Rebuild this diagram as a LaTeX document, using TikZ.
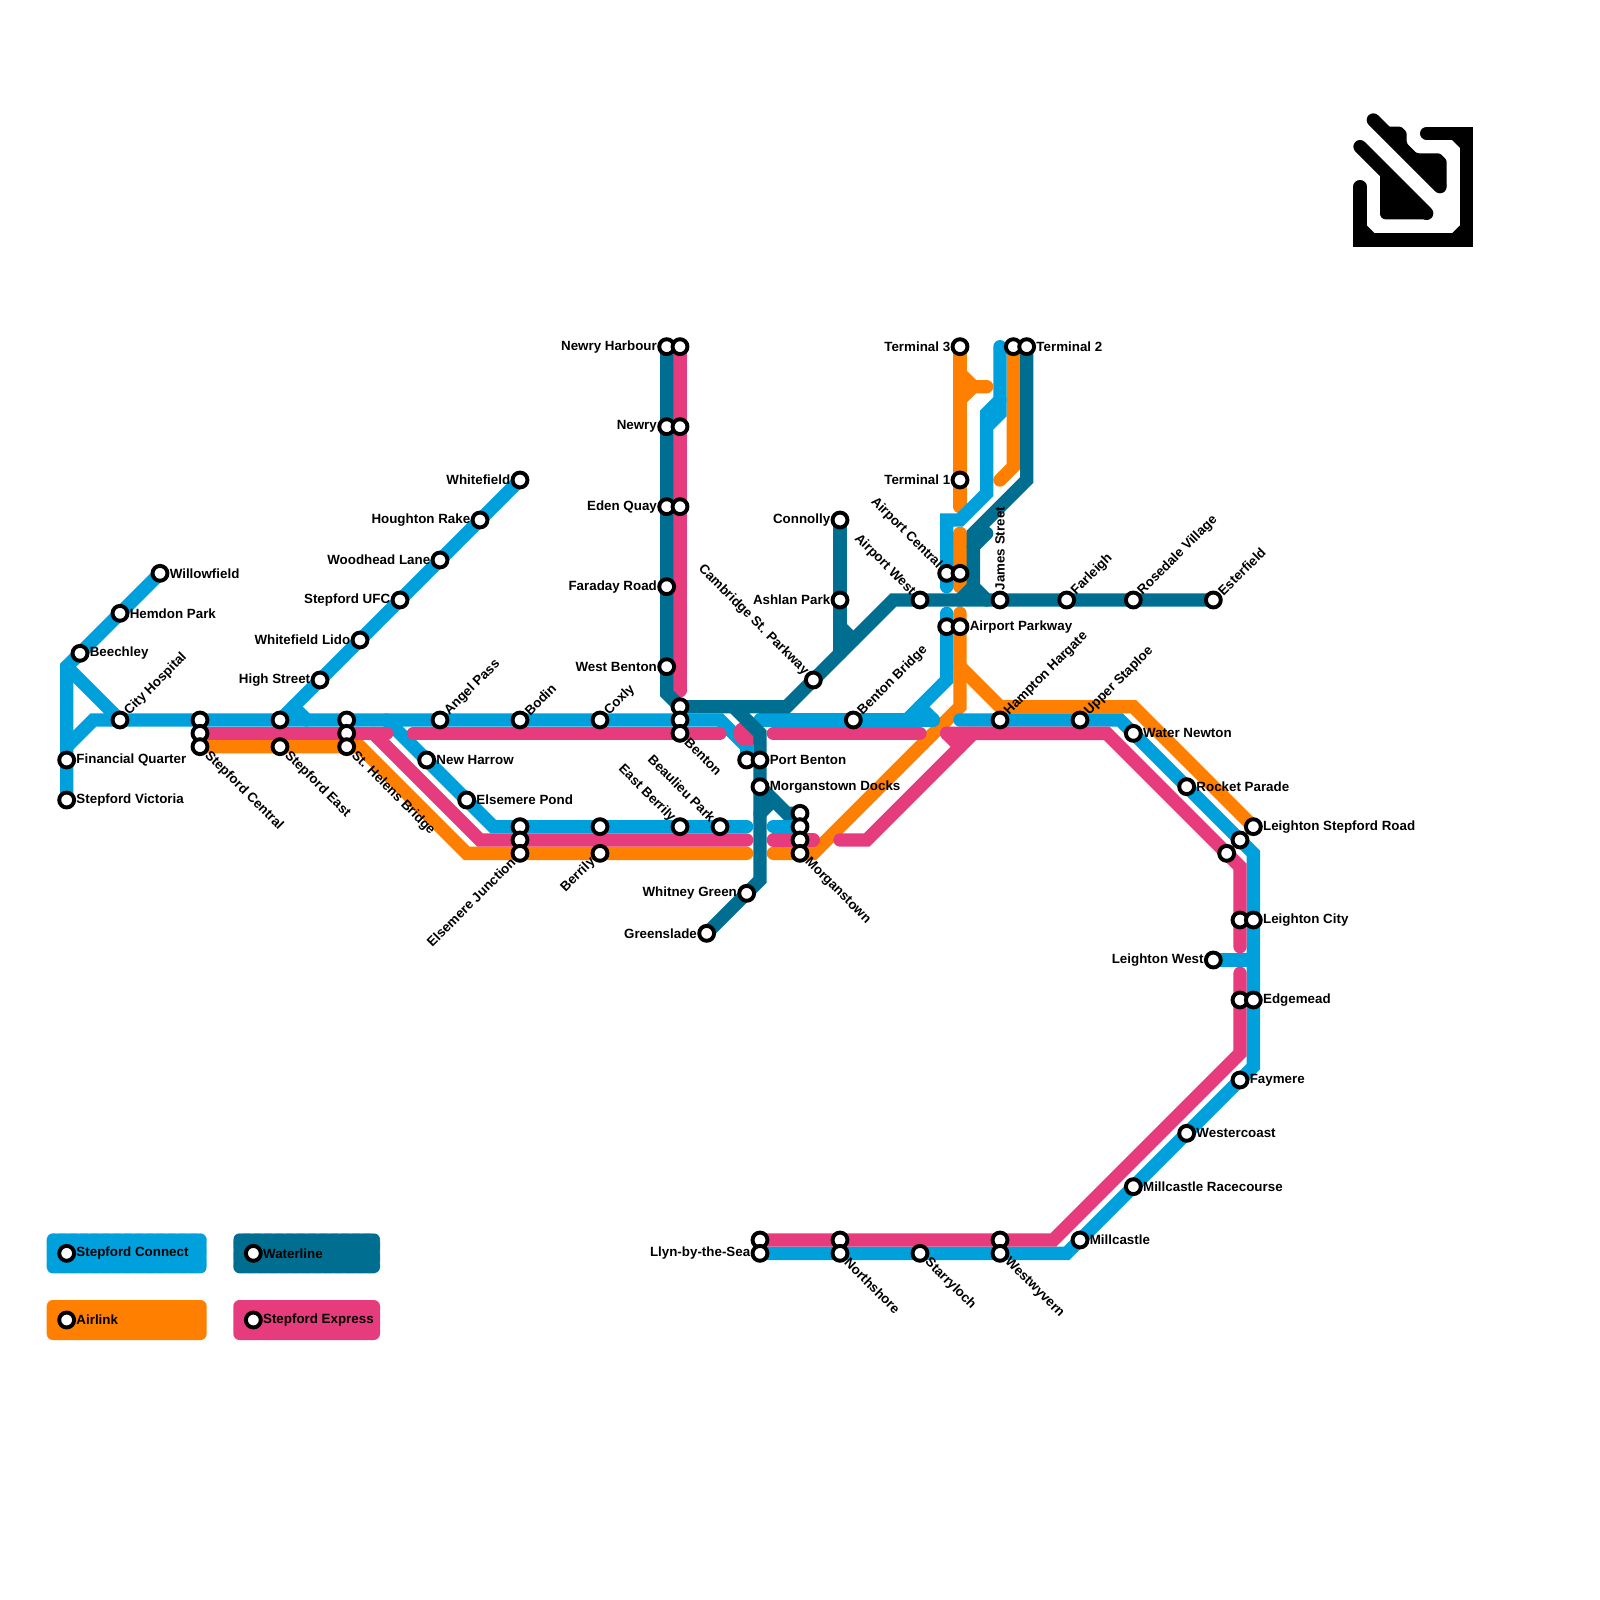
\documentclass[tikz,border=0pt]{standalone}
\usepackage{fontspec}
\setmainfont{Liberation Sans}
\usetikzlibrary{positioning,backgrounds}
\definecolor{connectblue}{HTML}{00A0DC}
\definecolor{waterblue}{HTML}{006E90}
\definecolor{airorange}{HTML}{FF7F00}
\definecolor{expresspink}{HTML}{E63C7D}
\begin{document}
\begin{tikzpicture}[
        x=0.3cm, y=-0.3cm,
        every label/.style={font=\fontsize{8.55}{10}\selectfont\bfseries, inner sep=0.046cm, text=black},
        stn/.style={circle, draw=black, fill=white, line width=0.088cm, minimum size=0.335cm, inner sep=0pt, outer sep=0pt},
        tne/.style={rotate=45, anchor=west},
        tse/.style={rotate=-45, anchor=west},
        tnw/.style={rotate=-45, anchor=east},
        tsw/.style={rotate=45, anchor=east},
        tup/.style={rotate=90, anchor=west},
        route/.style={line width=0.3cm, line cap=round, miter limit=4},
        connect/.style={route, draw=connectblue},
        water/.style={route, draw=waterblue},
        airlink/.style={route, draw=airorange},
        express/.style={route, draw=expresspink},
        legbox/.style={rectangle, rounded corners=0.14cm, minimum height=0.9cm, inner sep=0pt},
        legdash/.style={draw=white, draw opacity=0.3, line width=0.4pt, dash pattern=on 2pt off 5pt}
        ]
        \useasboundingbox (0,0) rectangle (120,120);

        % Key
        \node[legbox, legdash, fill=connectblue, minimum width=3.6cm] (keyconnect) at (9.5,94) {};
        \node[legbox, fill=airorange, minimum width=3.6cm] (keyairlink) at (9.5,99) {};
        \node[legbox, legdash, fill=waterblue, minimum width=3.3cm] (keywater) at (23,94) {};
        \node[legbox, fill=expresspink, minimum width=3.3cm] (keyexpress) at (23,99) {};
        \node[stn, label={right:Stepford Connect}] (keyconnectstn) at (5,94) {};
        \node[stn, label={right:Airlink}] (keyairlinkstn) at (5,99) {};
        \node[stn, label={right:Waterline}] (keywaterstn) at (19,94) {};
        \node[stn, label={right:Stepford Express}] (keyexpressstn) at (19,99) {};

        % Stations, west side
        \node[stn, label={right:Willowfield}] (willowfield) at (12,43) {};
        \node[stn, label={right:Hemdon Park}] (hemdon) at (9,46) {};
        \node[stn, label={right:Beechley}] (beechley) at (6,49) {};
        \node[stn, label={right:Financial Quarter}] (financial) at (5,57) {};
        \node[stn, label={right:Stepford Victoria}] (victoria) at (5,60) {};
        \node[stn, label={[tne]45:City Hospital}] (cityhospital) at (9,54) {};
        \node[stn] (central1) at (15,54) {};
        \node[stn] (central2) at (15,55) {};
        \node[stn, label={[tse]-45:Stepford Central}] (central3) at (15,56) {};
        \node[stn] (east1) at (21,54) {};
        \node[stn, label={[tse]-45:Stepford East}] (east2) at (21,56) {};
        \node[stn] (helens1) at (26,54) {};
        \node[stn] (helens2) at (26,55) {};
        \node[stn, label={[tse]-45:St. Helens Bridge}] (helens3) at (26,56) {};
        \node[stn, label={left:High Street}] (highstreet) at (24,51) {};
        \node[stn, label={left:Whitefield Lido}] (lido) at (27,48) {};
        \node[stn, label={left:Stepford UFC}] (ufc) at (30,45) {};
        \node[stn, label={left:Woodhead Lane}] (woodhead) at (33,42) {};
        \node[stn, label={left:Houghton Rake}] (houghton) at (36,39) {};
        \node[stn, label={left:Whitefield}] (whitefield) at (39,36) {};
        \node[stn, label={[tne]45:Angel Pass}] (angel) at (33,54) {};
        \node[stn, label={[tne]45:Bodin}] (bodin) at (39,54) {};
        \node[stn, label={[tne]45:Coxly}] (coxly) at (45,54) {};
        \node[stn, label={right:New Harrow}] (harrow) at (32,57) {};
        \node[stn, label={right:Elsemere Pond}] (pond) at (35,60) {};
        \node[stn] (junction1) at (39,62) {};
        \node[stn] (junction2) at (39,63) {};
        \node[stn, label={[tsw]225:Elsemere Junction}] (junction3) at (39,64) {};
        \node[stn] (berrily1) at (45,62) {};
        \node[stn, label={[tsw]225:Berrily}] (berrily2) at (45,64) {};
        \node[stn, label={[tnw]135:East Berrily}] (eastberrily) at (51,62) {};
        \node[stn, label={[tnw]135:Beaulieu Park}] (beaulieu) at (54,62) {};

        % Stations, centre
        \node[stn, label={left:Newry Harbour}] (harbour1) at (50,26) {};
        \node[stn] (harbour2) at (51,26) {};
        \node[stn, label={left:Newry}] (newry1) at (50,32) {};
        \node[stn] (newry2) at (51,32) {};
        \node[stn, label={left:Eden Quay}] (eden1) at (50,38) {};
        \node[stn] (eden2) at (51,38) {};
        \node[stn, label={left:Faraday Road}] (faraday) at (50,44) {};
        \node[stn, label={left:West Benton}] (westbenton) at (50,50) {};
        \node[stn] (benton1) at (51,53) {};
        \node[stn] (benton2) at (51,54) {};
        \node[stn, label={[tse]-45:Benton}] (benton3) at (51,55) {};
        \node[stn] (port1) at (56,57) {};
        \node[stn, label={right:Port Benton}] (port2) at (57,57) {};
        \node[stn, label={right:Morganstown Docks}] (docks) at (57,59) {};
        \node[stn] (morgan1) at (60,61) {};
        \node[stn] (morgan2) at (60,62) {};
        \node[stn] (morgan3) at (60,63) {};
        \node[stn, label={[tse]-45:Morganstown}] (morgan4) at (60,64) {};
        \node[stn, label={left:Whitney Green}] (whitney) at (56,67) {};
        \node[stn, label={left:Greenslade}] (greenslade) at (53,70) {};
        \node[stn, label={left:Connolly}] (connolly) at (63,39) {};
        \node[stn, label={left:Ashlan Park}] (ashlan) at (63,45) {};
        \node[stn, label={[tnw]135:Cambridge St. Parkway}] (cambridge) at (61,51) {};
        \node[stn, label={[tne]45:Benton Bridge}] (bentonbridge) at (64,54) {};

        % Stations, airport
        \node[stn, label={left:Terminal 3}] (terminal3) at (72,26) {};
        \node[stn, label={left:Terminal 1}] (terminal1) at (72,36) {};
        \node[stn] (terminal2a) at (76,26) {};
        \node[stn, label={right:Terminal 2}] (terminal2b) at (77,26) {};
        \node[stn, label={[tnw]135:Airport West}] (airwest) at (69,45) {};
        \node[stn, label={[tnw]135:Airport Central}] (aircentral1) at (71,43) {};
        \node[stn] (aircentral2) at (72,43) {};
        \node[stn] (parkway1) at (71,47) {};
        \node[stn, label={right:Airport Parkway}] (parkway2) at (72,47) {};
        \node[stn, label={[tup]90:James Street}] (james) at (75,45) {};
        \node[stn, label={[tne]45:Farleigh}] (farleigh) at (80,45) {};
        \node[stn, label={[tne]45:Rosedale Village}] (rosedale) at (85,45) {};
        \node[stn, label={[tne]45:Esterfield}] (esterfield) at (91,45) {};

        % Stations, east and south
        \node[stn, label={[tne]45:Hampton Hargate}] (hampton) at (75,54) {};
        \node[stn, label={[tne]45:Upper Staploe}] (staploe) at (81,54) {};
        \node[stn, label={right:Water Newton}] (newton) at (85,55) {};
        \node[stn, label={right:Rocket Parade}] (rocket) at (89,59) {};
        \node[stn, label={right:Leighton Stepford Road}] (lsr1) at (94,62) {};
        \node[stn] (lsr2) at (93,63) {};
        \node[stn] (lsr3) at (92,64) {};
        \node[stn] (lcity1) at (93,69) {};
        \node[stn, label={right:Leighton City}] (lcity2) at (94,69) {};
        \node[stn, label={left:Leighton West}] (lwest) at (91,72) {};
        \node[stn] (edge1) at (93,75) {};
        \node[stn, label={right:Edgemead}] (edge2) at (94,75) {};
        \node[stn, label={right:Faymere}] (faymere) at (93,81) {};
        \node[stn, label={right:Westercoast}] (westercoast) at (89,85) {};
        \node[stn, label={right:Millcastle Racecourse}] (racecourse) at (85,89) {};
        \node[stn, label={right:Millcastle}] (millcastle) at (81,93) {};
        \node[stn] (westwyvern1) at (75,93) {};
        \node[stn, label={[tse]-45:Westwyvern}] (westwyvern2) at (75,94) {};
        \node[stn, label={[tse]-45:Starryloch}] (starryloch) at (69,94) {};
        \node[stn] (northshore1) at (63,93) {};
        \node[stn, label={[tse]-45:Northshore}] (northshore2) at (63,94) {};
        \node[stn] (llyn1) at (57,93) {};
        \node[stn, label={left:Llyn-by-the-Sea}] (llyn2) at (57,94) {};

        % Bends and free line ends
        \coordinate (c1) at (5,50);   \coordinate (c2) at (5,56);   \coordinate (c3) at (7,54);
        \coordinate (c4) at (22,53);  \coordinate (c5) at (23,54);  \coordinate (c6) at (29,54);
        \coordinate (c7) at (37,62);  \coordinate (c8) at (56,62);  \coordinate (c9) at (54,54);
        \coordinate (c10) at (56,56); \coordinate (c11) at (57,54); \coordinate (c12) at (70,54);
        \coordinate (c13) at (71,51); \coordinate (c14) at (69,53); \coordinate (c15) at (68,54);
        \coordinate (c16) at (71,46); \coordinate (c17) at (71,44); \coordinate (c18) at (71,39);
        \coordinate (c19) at (72,39); \coordinate (c20) at (74,37); \coordinate (c21) at (74,32);
        \coordinate (c22) at (75,31); \coordinate (c23) at (75,30); \coordinate (c24) at (74,31);
        \coordinate (c25) at (75,26); \coordinate (c26) at (72,54); \coordinate (c27) at (84,54);
        \coordinate (c28) at (94,64); \coordinate (c29) at (94,80); \coordinate (c30) at (80,94);
        \coordinate (c31) at (94,72); \coordinate (c32) at (58,62);

        \coordinate (a1) at (27,56);  \coordinate (a2) at (35,64);  \coordinate (a3) at (56,64);
        \coordinate (a4) at (58,64);  \coordinate (a5) at (61,64);  \coordinate (a6) at (72,53);
        \coordinate (a7) at (72,46);  \coordinate (a8) at (72,50);  \coordinate (a9) at (75,53);
        \coordinate (a10) at (85,53); \coordinate (a11) at (72,38); \coordinate (a12) at (72,28);
        \coordinate (a13) at (73,29); \coordinate (a14) at (74,29); \coordinate (a15) at (72,30);
        \coordinate (a16) at (72,40); \coordinate (a17) at (72,44); \coordinate (a18) at (76,35);
        \coordinate (a19) at (75,36);

        \coordinate (w1) at (50,52);  \coordinate (w2) at (51,53);  \coordinate (w3) at (59,53);
        \coordinate (w4) at (67,45);  \coordinate (w5) at (55,53);  \coordinate (w6) at (57,55);
        \coordinate (w7) at (57,66);  \coordinate (w8) at (59,61);  \coordinate (w9) at (58,60);
        \coordinate (w10) at (57,61); \coordinate (w11) at (63,49); \coordinate (w12) at (63,47);
        \coordinate (w13) at (64,48); \coordinate (w14) at (77,36); \coordinate (w15) at (73,40);
        \coordinate (w16) at (73,44); \coordinate (w17) at (74,45); \coordinate (w18) at (72,45);
        \coordinate (w19) at (74,40); \coordinate (w20) at (73,41);

        \coordinate (e1) at (29,55);  \coordinate (e2) at (28,55);  \coordinate (e3) at (36,63);
        \coordinate (e4) at (56,63);  \coordinate (e5) at (31,55);  \coordinate (e6) at (54,55);
        \coordinate (e7) at (55.95,55); \coordinate (e8) at (56.05,55); \coordinate (e9) at (58,55);
        \coordinate (e10) at (69,55); \coordinate (e11) at (58,63); \coordinate (e12) at (61,63);
        \coordinate (e13) at (63,63); \coordinate (e14) at (65,63); \coordinate (e15) at (73,55);
        \coordinate (e16) at (71,55); \coordinate (e17) at (83,55); \coordinate (e18) at (93,65);
        \coordinate (e19) at (93,71); \coordinate (e21) at (72,56); \coordinate (e22) at (93,73);
        \coordinate (e23) at (93,79); \coordinate (e24) at (79,93); \coordinate (e25) at (51,51.8);

        \begin{pgfonlayer}{background}
        % Airlink
        \draw[airlink] (central3.center) -- (a1) -- (a2) -- (a3);
        \draw[airlink] (a4) -- (a5) -- (a6) -- (a7);
        \draw[airlink] (a8) -- (a9) -- (a10) -- (lsr1.center);
        \draw[airlink] (terminal3.center) -- (a11);
        \draw[airlink] (a12) -- (a13) -- (a14);
        \draw[airlink] (a13) -- (a15);
        \draw[airlink] (a16) -- (a17);
        \draw[airlink] (terminal2a.center) -- (a18) -- (a19);

        % Stepford Connect
        \draw[connect] (willowfield.center) -- (c1) -- (victoria.center);
        \draw[connect] (c1) -- (cityhospital.center);
        \draw[connect] (c2) -- (c3) -- (c9) -- (c10) -- (port1.center);
        \draw[connect] (whitefield.center) -- (east1.center);
        \draw[connect] (c4) -- (c5);
        \draw[connect] (c6) -- (c7) -- (c8);
        \draw[connect] (c32) -- (morgan2.center);
        \draw[connect] (c11) -- (c12);
        \draw[connect] (c16) -- (c13) -- (c15);
        \draw[connect] (c14) -- (c12);
        \draw[connect] (c17) -- (c18) -- (c19) -- (c20) -- (c21) -- (c22) -- (c25);
        \draw[connect] (c23) -- (c24) -- (c21);
        \draw[connect] (c26) -- (c27) -- (c28) -- (c29) -- (c30) -- (llyn2.center);
        \draw[connect] (lwest.center) -- (c31);

        % Stepford Express
        \draw[express] (central2.center) -- (e1);
        \draw[express] (e2) -- (e3) -- (e4);
        \draw[express] (e5) -- (e6);
        \draw[express, line width=0.57cm] (e7) -- (e8);
        \draw[express] (e9) -- (e10);
        \draw[express] (e11) -- (e12);
        \draw[express] (e13) -- (e14) -- (e15);
        \draw[express] (e16) -- (e17) -- (e18) -- (e19);
        \draw[express] (e16) -- (e21);
        \draw[express] (e22) -- (e23) -- (e24) -- (llyn1.center);
        \draw[express] (harbour2.center) -- (e25);

        % Waterline
        \draw[water] (harbour1.center) -- (w1) -- (w2) -- (w3) -- (w4) -- (esterfield.center);
        \draw[water] (w5) -- (w6) -- (w7) -- (greenslade.center);
        \draw[water] (docks.center) -- (w8) -- (morgan1.center);
        \draw[water] (w9) -- (w10);
        \draw[water] (connolly.center) -- (w11);
        \draw[water] (w12) -- (w13);
        \draw[water] (terminal2b.center) -- (w14) -- (w15) -- (w16) -- (w17);
        \draw[water] (w16) -- (w18);
        \draw[water] (w19) -- (w20);
        \end{pgfonlayer}

        % Corner symbol
        \draw[line width=0.3cm, line cap=round] (102,14) -- (102,18) -- (110,18) -- (110,10) -- (107,10);
        \fill (102.5,16.9) -- (103.2,17.6) -- (102.5,17.6) -- cycle;
        \fill (109.5,16.9) -- (108.8,17.6) -- (109.5,17.6) -- cycle;
        \fill (109.5,11.1) -- (108.8,10.4) -- (109.5,10.4) -- cycle;
        \draw[line width=0.3cm, line cap=round] (103,9) -- (108,14);
        \draw[line width=0.3cm, line cap=round] (102,11) -- (107,16);
        \fill[rounded corners=0.05cm] (104,9.5) -- (105.1,9.5) -- (105.5,9.9) -- (105.5,10.75) -- (106.25,11.5) -- (108,11.5) -- (108.5,12) -- (108.5,14) -- (108,14.5) -- cycle;
        \fill[rounded corners=0.05cm] (103.5,13) -- (107.5,16) -- (107.25,16.45) -- (103.75,16.45) -- (103.5,16.2) -- cycle;

    \end{tikzpicture}
\end{document}
